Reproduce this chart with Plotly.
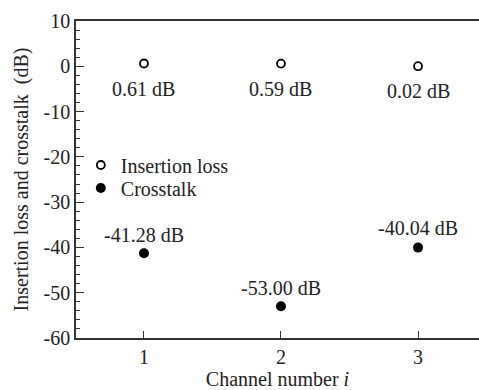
import plotly.graph_objects as go

channels = [1, 2, 3]
insertion_loss = [0.61, 0.59, 0.02]
crosstalk = [-41.28, -53.00, -40.04]
il_labels = ["0.61 dB", "0.59 dB", "0.02 dB"]
ct_labels = ["-41.28 dB", "-53.00 dB", "-40.04 dB"]
y_ticks = [10, 0, -10, -20, -30, -40, -50, -60]

FONT = "Liberation Serif, Times New Roman, serif"
AX = "#333333"
FS = 20

fig = go.Figure()
fig.add_trace(go.Scatter(
    x=channels, y=insertion_loss, mode="markers", name="Insertion loss", legend="legend",
    marker=dict(symbol="circle-open", size=8, color="black", line=dict(width=1.8, color="black")),
))
fig.add_trace(go.Scatter(
    x=channels, y=crosstalk, mode="markers", name="Crosstalk", legend="legend2",
    marker=dict(symbol="circle", size=10, color="black"),
))

for xv, yv, t in zip(channels, insertion_loss, il_labels):
    fig.add_annotation(x=xv, y=yv, text=t, showarrow=False, yshift=-25,
                       xanchor="center", yanchor="middle",
                       font=dict(family=FONT, size=FS, color="#222"))
for i, (xv, yv, t) in enumerate(zip(channels, crosstalk, ct_labels)):
    fig.add_annotation(x=xv, y=yv, text=t, showarrow=False, yshift=18 if i < 2 else 20,
                       xanchor="center", yanchor="middle",
                       font=dict(family=FONT, size=FS, color="#222"))

leg_common = dict(xanchor="left", yanchor="middle", bgcolor="rgba(0,0,0,0)",
                  font=dict(family=FONT, size=FS, color="#222"), itemwidth=30)

fig.update_layout(
    width=479, height=390,
    margin=dict(l=76, r=0, t=21, b=52),
    paper_bgcolor="white", plot_bgcolor="white",
    font=dict(family=FONT, size=FS, color="#222"),
    showlegend=True,
    legend=dict(x=0.012, y=0.5457, **leg_common),
    legend2=dict(x=0.012, y=0.4732, **leg_common),
    xaxis=dict(
        range=[0.504, 3.445], tickvals=channels, ticktext=[str(c) for c in channels],
        ticks="inside", ticklen=7, tickwidth=1.2, tickcolor=AX,
        showline=True, linecolor=AX, linewidth=1.5, mirror=True,
        showgrid=False, zeroline=False,
        title=dict(text="Channel number <i>i</i>", standoff=2, font=dict(family=FONT, size=FS)),
        tickfont=dict(family=FONT, size=FS),
    ),
    yaxis=dict(
        range=[-60, 10], tickvals=y_ticks, ticktext=[str(v) for v in y_ticks],
        ticks="inside", ticklen=8, tickwidth=1.2, tickcolor=AX,
        minor=dict(dtick=2, ticks="inside", ticklen=4, tickwidth=1, tickcolor=AX, showgrid=False),
        showline=True, linecolor=AX, linewidth=1.5, mirror=False,
        showgrid=False, zeroline=False,
        title=dict(text="Insertion loss and crosstalk&nbsp;&nbsp;(dB)", standoff=10, font=dict(family=FONT, size=FS)),
        tickfont=dict(family=FONT, size=FS),
    ),
)

fig.write_html("out.html")
